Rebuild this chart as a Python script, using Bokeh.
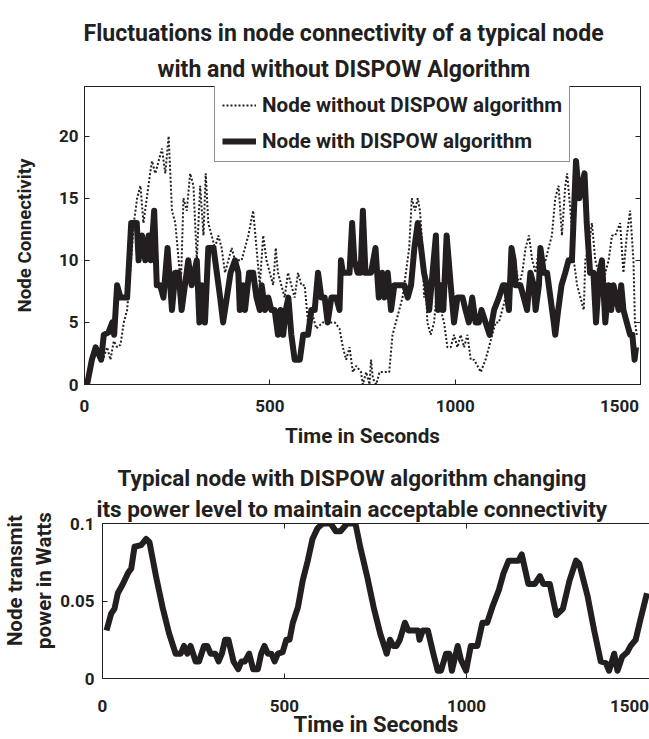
from bokeh.plotting import figure
from bokeh.models import Range1d, LinearAxis, FixedTicker, Title, Legend, LegendItem
from bokeh.layouts import column
from bokeh.embed import file_html
from bokeh.resources import INLINE

# ---------------- data ----------------
time_without = [3, 16, 25, 34, 43, 52, 61, 70, 79, 88, 97, 106, 115, 126, 133, 142, 151, 159, 168, 177,
                182, 191, 200, 209, 218, 227, 236, 245, 254, 260, 267, 276, 285, 294, 303, 312, 321, 327,
                334, 343, 352, 361, 370, 379, 388, 397, 406, 415, 424, 433, 442, 455, 464, 473, 482, 491,
                500, 509, 516, 522, 531, 540, 549, 558, 567, 576, 585, 594, 603, 612, 625, 643, 661, 675,
                688, 697, 706, 715, 724, 733, 746, 751, 760, 769, 773, 778, 787, 796, 809, 822, 831, 840,
                849, 858, 867, 876, 883, 892, 899, 905, 912, 916, 921, 925, 934, 943, 952, 961, 970, 979,
                988, 997, 1006, 1015, 1024, 1033, 1042, 1051, 1060, 1069, 1082, 1091, 1100, 1109, 1118,
                1127, 1136, 1145, 1152, 1161, 1172, 1181, 1190, 1199, 1208, 1217, 1226, 1235, 1244, 1252,
                1261, 1270, 1279, 1288, 1297, 1302, 1311, 1320, 1329, 1338, 1347, 1351, 1360, 1369, 1378,
                1387, 1396, 1405, 1414, 1423, 1432, 1445, 1454, 1463, 1472, 1481, 1485, 1490]
conn_without = [0, 1, 2.5, 3, 2, 2.2, 3, 2, 3.5, 3, 3.2, 5, 6, 10, 13, 15, 16, 13, 15, 17,
                18, 17, 18, 19, 17, 20, 14, 13, 10, 8, 15, 14, 17, 16, 10, 16, 12, 17,
                13, 12, 11, 12, 11, 9, 10, 11, 10, 10, 10, 11, 12, 14, 11, 8, 12, 10,
                9, 8, 11, 9, 8, 7, 9, 8, 7, 9, 8, 8, 5, 6, 4.5, 5, 5, 5,
                4.5, 3, 2, 3, 1, 1.5, 1, 0, 1, 0, 2, 0.5, 0, 1, 1, 1, 4, 5,
                6, 7, 9, 11, 15, 14, 15, 14, 11, 7, 8, 5, 4, 5, 8, 6, 5, 3,
                3, 4, 3, 4, 3, 4, 2, 2, 1.5, 1, 2, 3, 4, 5, 5,
                6, 7, 7, 8, 10, 8, 9, 11, 12, 10, 9, 11, 10, 10, 11,
                12, 15, 16, 12, 16, 17, 14, 10, 8, 7, 6, 10, 11, 13, 10,
                9, 7, 9, 10, 12, 12, 13, 9, 12, 14, 10, 5, 4]

time_with = [7, 20, 30, 45, 52, 65, 75, 80, 88, 97, 115, 126, 141, 146, 155, 164, 173, 179, 188, 195,
             204, 213, 224, 236, 245, 254, 262, 271, 280, 289, 303, 310, 316, 325, 334, 348, 357, 366,
             374, 384, 394, 406, 415, 419, 428, 433, 444, 455, 464, 473, 478, 487, 496, 504, 513, 522,
             529, 536, 543, 550, 558, 567, 581, 590, 603, 612, 621, 630, 639, 648, 656, 666, 679, 688,
             692, 697, 715, 722, 728, 737, 745, 751, 758, 773, 785, 794, 803, 809, 818, 827, 836, 863,
             872, 881, 890, 899, 908, 916, 923, 930, 939, 948, 954, 961, 968, 977, 988, 997, 1006, 1020,
             1028, 1037, 1046, 1055, 1064, 1071, 1082, 1093, 1105, 1118, 1129, 1136, 1145, 1152, 1158,
             1163, 1176, 1185, 1194, 1203, 1212, 1217, 1226, 1230, 1239, 1248, 1257, 1266, 1270, 1278,
             1287, 1297, 1306, 1315, 1326, 1335, 1342, 1349, 1355, 1364, 1373, 1380, 1389, 1396, 1405,
             1414, 1421, 1427, 1434, 1441, 1448, 1454, 1463, 1472, 1478, 1484, 1488]
conn_with = [0, 2, 3, 2, 4, 4.2, 5, 4, 8, 7, 7, 13, 13, 10, 12, 10, 12, 10, 14, 8,
             8, 7, 11, 6, 9, 9, 6, 8, 10, 8, 10, 5, 8, 5, 11, 11, 9, 7,
             5, 7, 9, 10, 9, 6, 8, 6, 9, 9, 7, 6, 8, 6, 7, 6, 6, 4,
             6, 4, 6, 7, 4, 2, 2, 4, 4, 6, 6, 9, 7, 7, 5, 7, 7, 6,
             10, 9, 9, 13, 10, 9, 9, 14, 9, 9, 11, 7, 9, 7, 9, 6, 8, 8,
             7, 8, 11, 13, 11, 9, 8, 6, 9, 12, 6, 8, 6, 12, 8, 5, 7, 7,
             6, 5, 7, 5, 5, 6, 5, 4, 6, 7, 8, 8, 6, 11, 10,
             8, 8, 7, 6, 9, 8, 6, 8, 11, 9, 9, 7, 5, 4, 6,
             8, 9, 10, 10, 18, 15, 16, 17, 13, 9, 9, 5, 9, 10, 5,
             8, 6, 8, 7, 6, 8, 6, 5, 4, 4, 2, 3]

time_power = [11, 24, 33, 42, 56, 70, 79, 88, 106, 120, 129, 147, 165, 183, 201, 215, 224, 233, 242, 256,
              265, 279, 288, 297, 310, 319, 328, 337, 346, 360, 373, 382, 391, 403, 414, 427, 436, 445,
              454, 464, 473, 482, 495, 505, 514, 523, 537, 550, 564, 577, 591, 605, 627, 641, 654, 672,
              695, 708, 727, 745, 763, 781, 790, 799, 808, 817, 831, 840, 867, 871, 880, 894, 908, 921,
              930, 944, 953, 960, 976, 985, 999, 1012, 1030, 1044, 1057, 1071, 1089, 1102, 1116, 1143,
              1152, 1170, 1188, 1202, 1211, 1229, 1247, 1265, 1283, 1301, 1310, 1333, 1351, 1369, 1383,
              1392, 1406, 1415, 1428, 1442, 1451, 1465, 1478, 1496]
power_watts = [0.031, 0.042, 0.045, 0.055, 0.061, 0.068, 0.071, 0.085, 0.086, 0.090, 0.088, 0.066, 0.046,
               0.029, 0.016, 0.016, 0.021, 0.016, 0.021, 0.011, 0.011, 0.021, 0.021, 0.016, 0.016, 0.011,
               0.016, 0.025, 0.025, 0.011, 0.006, 0.011, 0.011, 0.016, 0.006, 0.006, 0.016, 0.021, 0.016,
               0.016, 0.011, 0.016, 0.017, 0.025, 0.025, 0.036, 0.046, 0.063, 0.076, 0.090, 0.097, 0.100,
               0.100, 0.095, 0.095, 0.100, 0.100, 0.085, 0.066, 0.046, 0.029, 0.016, 0.025, 0.021, 0.021,
               0.025, 0.036, 0.031, 0.031, 0.025, 0.031, 0.031, 0.017, 0.005, 0.005, 0.016, 0.016, 0.005,
               0.021, 0.012, 0.005, 0.021, 0.021, 0.036, 0.036, 0.046, 0.057, 0.068, 0.076, 0.076, 0.080,
               0.061, 0.061, 0.066, 0.061, 0.061, 0.041, 0.045, 0.063, 0.076, 0.074, 0.053, 0.031, 0.011,
               0.010, 0.005, 0.016, 0.005, 0.014, 0.017, 0.021, 0.025, 0.038, 0.055]

time_ticks = [0, 500, 1000, 1500]
time_tick_labels = ["0", "500", "1000", "1500"]
conn_ticks = [0, 5, 10, 15, 20]
conn_tick_labels = ["0", "5", "10", "15", "20"]
power_ticks = [0, 0.05, 0.1]
power_tick_labels = ["0", "0.05", "0.1"]

title1_lines = ["Fluctuations in node connectivity of a typical node",
                "with and without DISPOW Algorithm"]
title2_lines = ["Typical node with DISPOW algorithm changing",
                "its power level to maintain acceptable connectivity"]
xlabel = "Time in Seconds"
ylabel1 = "Node Connectivity"
ylabel2_lines = ["Node transmit", "power in Watts"]
legend_labels = ["Node without DISPOW algorithm", "Node with DISPOW algorithm"]

# ---------------- styling ----------------
FONT = "Roboto"
INK = "#231f20"
NBSP = "\u00a0"


def style_axis(ax, ticks, labels, size="17px", standoff=5, show=True, draw_ticks=True):
    ax.ticker = FixedTicker(ticks=ticks)
    ax.major_label_overrides = {t: (l if show else "") for t, l in zip(ticks, labels)}
    ax.major_tick_in = 5
    ax.major_tick_out = 0
    ax.minor_tick_line_color = None
    ax.axis_line_color = INK if draw_ticks else None
    ax.major_tick_line_color = INK if draw_ticks else None
    ax.major_label_text_font = FONT
    ax.major_label_text_font_style = "bold"
    ax.major_label_text_color = INK
    ax.major_label_text_font_size = size if show else "0px"
    ax.major_label_standoff = standoff
    ax.axis_label_text_font = FONT
    ax.axis_label_text_font_style = "bold"
    ax.axis_label_text_color = INK


def time_label_axis(p, px_per_s, edge_shift_px, standoff, label_size, label_standoff):
    """Tick-label row under the frame; the edge label sits inside the frame as in the original."""
    positions = list(time_ticks[:-1]) + [time_ticks[-1] - edge_shift_px / px_per_s]
    ax = LinearAxis()
    style_axis(ax, positions, time_tick_labels, standoff=standoff, draw_ticks=False)
    ax.axis_label = xlabel
    ax.axis_label_text_font_size = label_size
    ax.axis_label_standoff = label_standoff
    p.add_layout(ax, "below")


def add_titles(p, lines, standoffs, offsets, size):
    # the first title added sits closest to the frame
    for txt, so, off in reversed(list(zip(lines, standoffs, offsets))):
        p.add_layout(Title(text=txt, align="left", offset=off, text_font=FONT,
                           text_font_style="bold", text_font_size=size, text_color=INK,
                           standoff=so), "above")


def no_frame_align(p):
    try:
        p.frame_align = False
    except Exception:
        pass


# ---------------- top figure ----------------
p1 = figure(width=649, height=455, x_range=Range1d(0, 1500), y_range=Range1d(0, 24),
            output_backend="svg", toolbar_location=None, title=None,
            min_border_left=84, min_border_right=9, min_border_top=86, min_border_bottom=71)
no_frame_align(p1)
p1.xgrid.visible = False
p1.ygrid.visible = False
p1.outline_line_color = INK
p1.background_fill_color = "white"
p1.border_fill_color = "white"

r_without = p1.line(time_without, conn_without, line_width=2, line_dash="2 2", color=INK)
r_with = p1.line(time_with, conn_with, line_width=6, color=INK, line_join="round")

# inner tick marks on all four sides
style_axis(p1.xaxis[0], time_ticks, time_tick_labels, show=False, standoff=0)
style_axis(p1.yaxis[0], conn_ticks, conn_tick_labels, standoff=6)
p1.yaxis[0].axis_label = ylabel1
p1.yaxis[0].axis_label_text_font_size = "18.7px"
p1.yaxis[0].axis_label_standoff = 20
top_ax = LinearAxis()
style_axis(top_ax, time_ticks, time_tick_labels, show=False, standoff=0)
p1.add_layout(top_ax, "above")
right_ax = LinearAxis()
style_axis(right_ax, conn_ticks, conn_tick_labels, show=False, standoff=0)
p1.add_layout(right_ax, "right")
time_label_axis(p1, 556 / 1500, 21, 15, "20.7px", 9)
add_titles(p1, title1_lines, [8, 7], [-1, 73], "23.1px")

legend = Legend(items=[LegendItem(label=legend_labels[0], renderers=[r_without]),
                       LegendItem(label=legend_labels[1], renderers=[r_with])],
                location=(130, 222), margin=0, padding=7, spacing=10,
                glyph_width=34, glyph_height=26, label_height=26, label_standoff=6,
                label_text_font=FONT, label_text_font_style="bold", label_text_font_size="20.6px",
                label_text_color=INK, border_line_color=INK, border_line_width=1,
                background_fill_color="white", background_fill_alpha=1.0)
p1.add_layout(legend)

# ---------------- bottom figure ----------------
p2 = figure(width=649, height=284, x_range=Range1d(0, 1503), y_range=Range1d(0, 0.1),
            output_backend="svg", toolbar_location=None, title=None,
            min_border_left=96, min_border_right=0, min_border_top=68, min_border_bottom=60)
no_frame_align(p2)
p2.xgrid.visible = False
p2.ygrid.visible = False
p2.outline_line_color = None
p2.background_fill_color = "white"
p2.border_fill_color = "white"

p2.line(time_power, power_watts, line_width=6, color=INK, line_join="round")

style_axis(p2.xaxis[0], time_ticks[:-1], time_tick_labels[:-1], show=False, standoff=0)
style_axis(p2.yaxis[0], power_ticks, power_tick_labels, standoff=8)
# leading spaces lift the rotated label, which sits above the frame centre in the original
p2.yaxis[0].axis_label = "\n".join(NBSP * 8 + s for s in ylabel2_lines)
p2.yaxis[0].axis_label_text_font_size = "20.5px"
p2.yaxis[0].axis_label_standoff = 1
top_ax2 = LinearAxis()
style_axis(top_ax2, time_ticks[:-1], time_tick_labels[:-1], show=False, standoff=0)
p2.add_layout(top_ax2, "above")
time_label_axis(p2, 553 / 1503, 19, 21, "22px", -3)
add_titles(p2, title2_lines, [2, 4], [15, -6], "22.5px")

layout = column(p1, p2, spacing=0)
open("out.html", "w").write(file_html(layout, INLINE))
